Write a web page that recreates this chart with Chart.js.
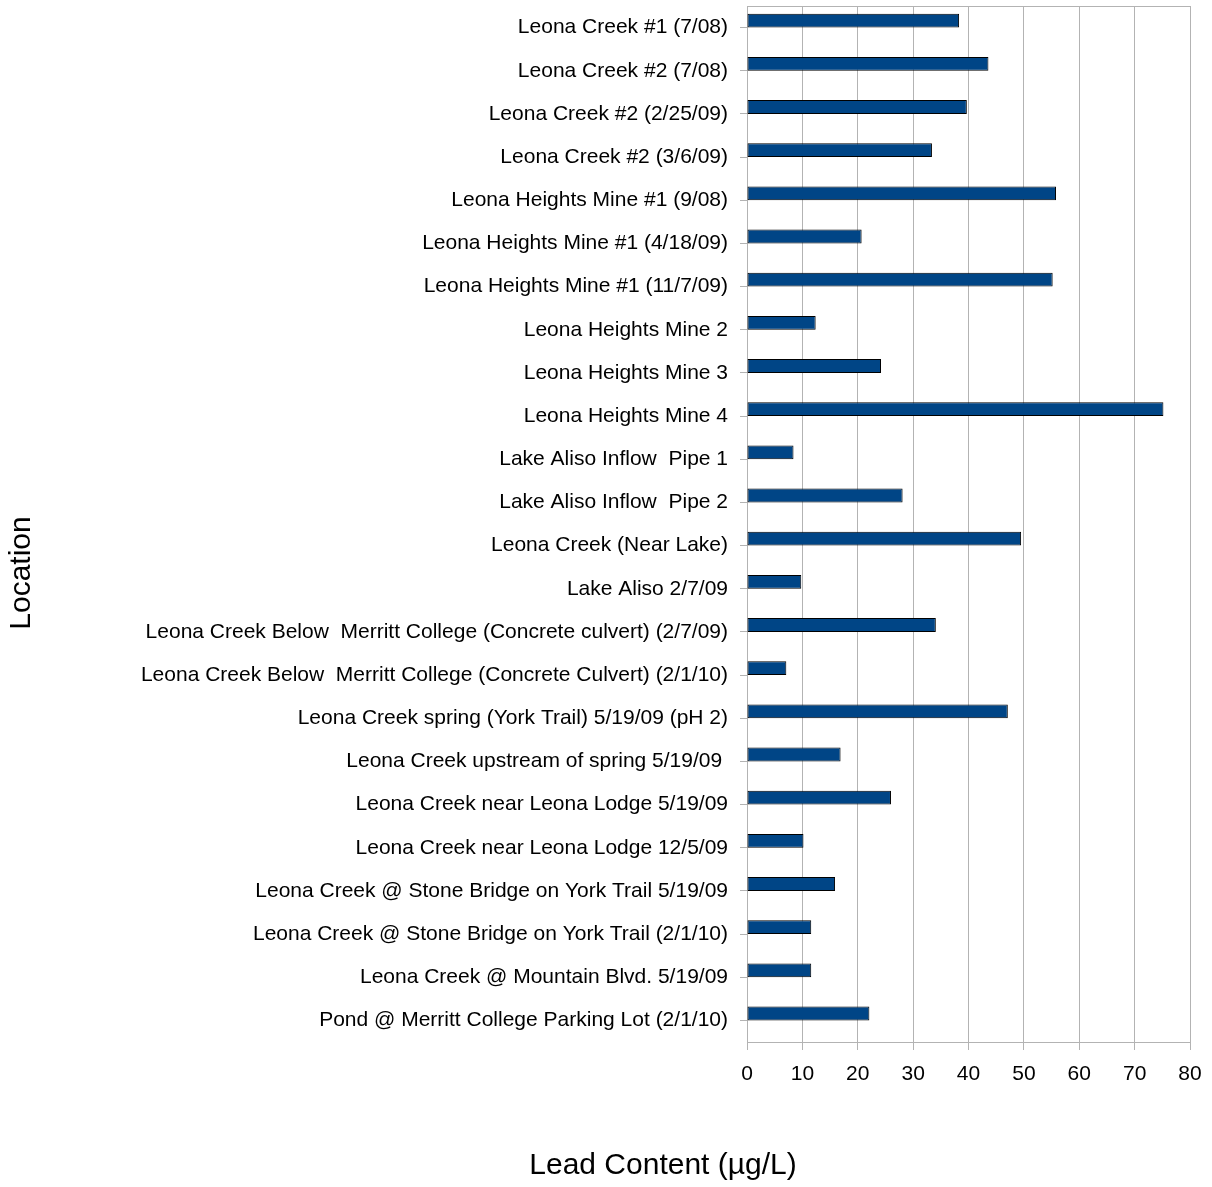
<!DOCTYPE html>
<html>
<head>
<meta charset="utf-8">
<script src="https://cdn.jsdelivr.net/npm/chart.js@4"></script>
<style>
  html, body { margin: 0; padding: 0; background: #fff; }
  #wrap { width: 1212px; height: 1187px; position: relative; }
</style>
</head>
<body>
<div id="wrap"><canvas id="c"></canvas></div>
<script>
const categories = [
  "Leona Creek #1 (7/08)",
  "Leona Creek #2 (7/08)",
  "Leona Creek #2 (2/25/09)",
  "Leona Creek #2 (3/6/09)",
  "Leona Heights Mine #1 (9/08)",
  "Leona Heights Mine #1 (4/18/09)",
  "Leona Heights Mine #1 (11/7/09)",
  "Leona Heights Mine 2",
  "Leona Heights Mine 3",
  "Leona Heights Mine 4",
  "Lake Aliso Inflow  Pipe 1",
  "Lake Aliso Inflow  Pipe 2",
  "Leona Creek (Near Lake)",
  "Lake Aliso 2/7/09",
  "Leona Creek Below  Merritt College (Concrete culvert) (2/7/09)",
  "Leona Creek Below  Merritt College (Concrete Culvert) (2/1/10)",
  "Leona Creek spring (York Trail) 5/19/09 (pH 2)",
  "Leona Creek upstream of spring 5/19/09 ",
  "Leona Creek near Leona Lodge 5/19/09",
  "Leona Creek near Leona Lodge 12/5/09",
  "Leona Creek @ Stone Bridge on York Trail 5/19/09",
  "Leona Creek @ Stone Bridge on York Trail (2/1/10)",
  "Leona Creek @ Mountain Blvd. 5/19/09",
  "Pond @ Merritt College Parking Lot (2/1/10)"
];
const leadContent = [38.3, 43.6, 39.7, 33.4, 55.8, 20.7, 55.2, 12.4, 24.2, 75.2, 8.4, 28.1,
                     49.5, 9.8, 34.1, 7.1, 47.1, 16.9, 26.0, 10.2, 15.9, 11.6, 11.6, 22.1];
// second (empty) series of the original spreadsheet chart, which shifts bars above the tick
const emptySeries = [null, null, null, null, null, null, null, null, null, null, null, null,
                     null, null, null, null, null, null, null, null, null, null, null, null];
const xMin = 0, xMax = 80, xStep = 10;
const xTitle = "Lead Content (\u00b5g/L)";
const yTitle = "Location";

const FONT = '"Liberation Sans", Arial, sans-serif';
const GRID = '#b3b3b3';

const framePlugin = {
  id: 'frame',
  beforeDatasetsDraw(chart) {
    const { ctx, chartArea: a } = chart;
    ctx.save();
    ctx.strokeStyle = GRID;
    ctx.lineWidth = 1;
    ctx.strokeRect(Math.round(a.left) + 0.5, Math.round(a.top) + 0.5,
                   Math.round(a.right - a.left), Math.round(a.bottom - a.top));
    ctx.restore();
  },
  afterDraw(chart) {
    const { ctx } = chart;
    ctx.save();
    ctx.fillStyle = '#000';
    ctx.font = '30px ' + FONT;
    ctx.textAlign = 'center';
    ctx.textBaseline = 'middle';
    ctx.fillText(xTitle, 663, 1166);
    ctx.translate(22, 573);
    ctx.rotate(-Math.PI / 2);
    ctx.fillText(yTitle, 0, 0);
    ctx.restore();
  }
};

new Chart(document.getElementById('c'), {
  type: 'bar',
  data: {
    labels: categories,
    datasets: [
      {
        data: leadContent,
        backgroundColor: '#004586',
        borderColor: '#000000',
        borderWidth: 1,
        borderSkipped: false,
        categoryPercentage: 0.64,
        barPercentage: 1.0
      },
      {
        data: emptySeries,
        backgroundColor: '#ff420e',
        categoryPercentage: 0.64,
        barPercentage: 1.0
      }
    ]
  },
  options: {
    indexAxis: 'y',
    responsive: true,
    maintainAspectRatio: false,
    animation: false,
    devicePixelRatio: 1,
    layout: { padding: { top: 6, right: 22, left: 0, bottom: 0 } },
    plugins: {
      legend: { display: false },
      tooltip: { enabled: false },
      title: { display: false }
    },
    scales: {
      x: {
        type: 'linear',
        min: xMin, max: xMax,
        ticks: {
          stepSize: xStep,
          color: '#000',
          font: { family: FONT, size: 21 },
          padding: 12
        },
        grid: { color: GRID, lineWidth: 1, tickLength: 8, drawTicks: true },
        border: { display: true, color: GRID },
        afterFit(scale) { scale.height = 145; scale.paddingLeft = 0; scale.paddingRight = 0; }
      },
      y: {
        type: 'category',
        ticks: {
          color: '#000',
          font: { family: FONT, size: 21 },
          padding: 12,
          autoSkip: false
        },
        grid: { drawOnChartArea: false, offset: false, color: GRID, tickLength: 7 },
        border: { display: true, color: GRID },
        afterFit(scale) { scale.width = 747; scale.paddingTop = 0; scale.paddingBottom = 0; }
      }
    }
  },
  plugins: [framePlugin]
});
</script>
</body>
</html>
